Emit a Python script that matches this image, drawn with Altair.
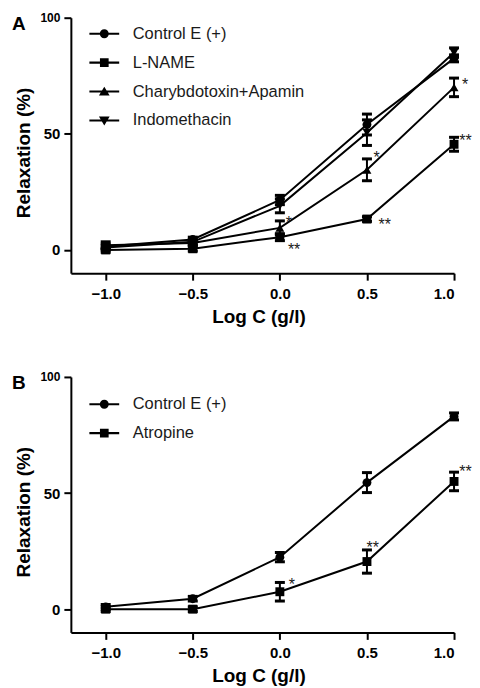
import altair as alt
import pandas as pd

x_vals = [-1.0, -0.5, 0.0, 0.5, 1.0]

a_names = ["Control E (+)", "L-NAME", "Charybdotoxin+Apamin", "Indomethacin"]
a_control = [1.5, 4.5, 21.5, 54.0, 82.5]
a_control_err = [1.0, 1.0, 2.0, 4.5, 1.5]
a_lname = [0.0, 0.5, 5.5, 13.3, 45.5]
a_lname_err = [1.0, 1.0, 1.5, 1.0, 3.0]
a_chary = [2.0, 3.0, 9.5, 34.5, 70.0]
a_chary_err = [1.5, 1.0, 3.0, 4.7, 4.0]
a_indo = [1.0, 3.5, 19.0, 50.5, 85.0]
a_indo_err = [1.0, 1.0, 3.0, 5.5, 2.0]

b_names = ["Control E (+)", "Atropine"]
b_control = [1.0, 4.5, 22.4, 54.5, 83.0]
b_control_err = [1.0, 1.0, 2.0, 4.3, 1.5]
b_atropine = [0.0, 0.0, 7.5, 20.5, 55.0]
b_atropine_err = [1.0, 1.0, 4.0, 5.0, 4.0]

a_star_text = ["*", "**", "*", "**", "*", "**"]
a_star_x = [1.045, 1.03, 0.537, 0.566, 0.034, 0.046]
a_star_y = [69.0, 44.9, 37.6, 8.7, 9.6, -2.0]
b_star_text = ["*", "**", "**"]
b_star_x = [0.051, 0.497, 1.03]
b_star_y = [8.4, 24.3, 57.0]

FONT = "Liberation Sans"
shape_plot = ["circle", "square", "triangle-up", "triangle-down"]
BAR = "M-1.03,-0.07H1.03V0.07H-1.03Z"
shape_legend = [
    BAR + "M0.31,0A0.31,0.31,0,1,1,-0.31,0A0.31,0.31,0,1,1,0.31,0Z",
    BAR + "M-0.3,-0.3H0.3V0.3H-0.3Z",
    BAR + "M0,-0.34L0.37,0.28H-0.37Z",
    BAR + "M0,0.34L-0.37,-0.28H0.37Z",
]


def panel(names, ys, errs, star_text, star_x, star_y, letter, legend_y):
    rows = []
    for name, yv, ev in zip(names, ys, errs):
        for xv, yy, ee in zip(x_vals, yv, ev):
            rows.append({"series": name, "x": xv, "y": yy, "lo": yy - ee, "hi": yy + ee})
    df = pd.DataFrame(rows)
    stars = pd.DataFrame({"t": star_text, "x": star_x, "y": star_y})
    n = len(names)

    xenc = alt.X("x:Q", scale=alt.Scale(domain=[-1.2, 1.0], nice=False, zero=False),
                 axis=alt.Axis(values=x_vals, format=".1f", title="Log C (g/l)",
                               labelPadding=6, titlePadding=6, titleX=188))
    yscale = alt.Scale(domain=[-10, 100], nice=False, zero=False)
    yenc = alt.Y("y:Q", scale=yscale,
                 axis=alt.Axis(values=[0, 50, 100], title="Relaxation (%)", titleY=135,
                               labelFontSize={"condition": {"test": "datum.value == 100", "value": 12}, "value": 15}))

    base = alt.Chart(df)
    lines = base.mark_line(color="black", strokeWidth=2).encode(x=xenc, y=yenc, detail="series:N")
    rules = base.mark_rule(color="black", strokeWidth=2).encode(x="x:Q", y="lo:Q", y2="hi:Q")
    cap_lo = base.mark_point(shape="M-1,0H1", size=100, strokeWidth=3, color="black",
                             filled=False, opacity=1).encode(x="x:Q", y="lo:Q")
    cap_hi = base.mark_point(shape="M-1,0H1", size=100, strokeWidth=3, color="black",
                             filled=False, opacity=1).encode(x="x:Q", y="hi:Q")
    pts = base.mark_point(filled=True, opacity=1, color="black", size=80).encode(
        x="x:Q", y="y:Q",
        shape=alt.Shape("series:N", scale=alt.Scale(domain=names, range=shape_plot[:n]), legend=None))
    leg = base.mark_point(filled=True, color="black", opacity=0).encode(
        x="x:Q", y="y:Q",
        shape=alt.Shape("series:N", scale=alt.Scale(domain=names, range=shape_legend[:n]),
                        legend=alt.Legend(title=None, orient="none", legendX=19, legendY=legend_y,
                                          symbolSize=841, symbolStrokeWidth=0,
                                          symbolFillColor="black",
                                          symbolOpacity=1, labelFont=FONT, labelFontSize=16.5,
                                          labelColor="#1a1a1a", labelOffset=14, rowPadding=6,
                                          padding=0, labelLimit=400)))
    st = alt.Chart(stars).mark_text(align="left", baseline="alphabetic", font=FONT,
                                    fontSize=16, color="#1a1a1a").encode(
        x="x:Q", y="y:Q", text="t:N")
    lt = alt.Chart(pd.DataFrame({"t": [letter]})).mark_text(
        align="left", baseline="alphabetic", font=FONT, fontSize=19, fontWeight="bold",
        color="black").encode(text="t:N", x=alt.value(-59), y=alt.value(12))
    return alt.layer(lines, rules, cap_lo, cap_hi, pts, leg, st, lt).resolve_scale(
        shape="independent").properties(width=384, height=256)


pa = panel(a_names, [a_control, a_lname, a_chary, a_indo],
           [a_control_err, a_lname_err, a_chary_err, a_indo_err],
           a_star_text, a_star_x, a_star_y, "A", 1.5)
pb = panel(b_names, [b_control, b_atropine], [b_control_err, b_atropine_err],
           b_star_text, b_star_x, b_star_y, "B", 12.8)

chart = alt.vconcat(pa, pb, spacing=45).resolve_scale(shape="independent").configure_view(
    stroke=None).configure_axis(
    grid=False, domainColor="black", domainWidth=2, tickColor="black", tickWidth=2,
    tickSize=7, labelFont=FONT, labelFontWeight="bold", labelFontSize=15,
    labelColor="black", labelPadding=4, titleFont=FONT, titleFontWeight="bold",
    titleFontSize=19, titleColor="black", titlePadding=6).properties(
    padding={"left": 4, "top": 3, "right": 0, "bottom": 0})

chart.save("out.html", embed_options={"renderer": "svg", "actions": False})
